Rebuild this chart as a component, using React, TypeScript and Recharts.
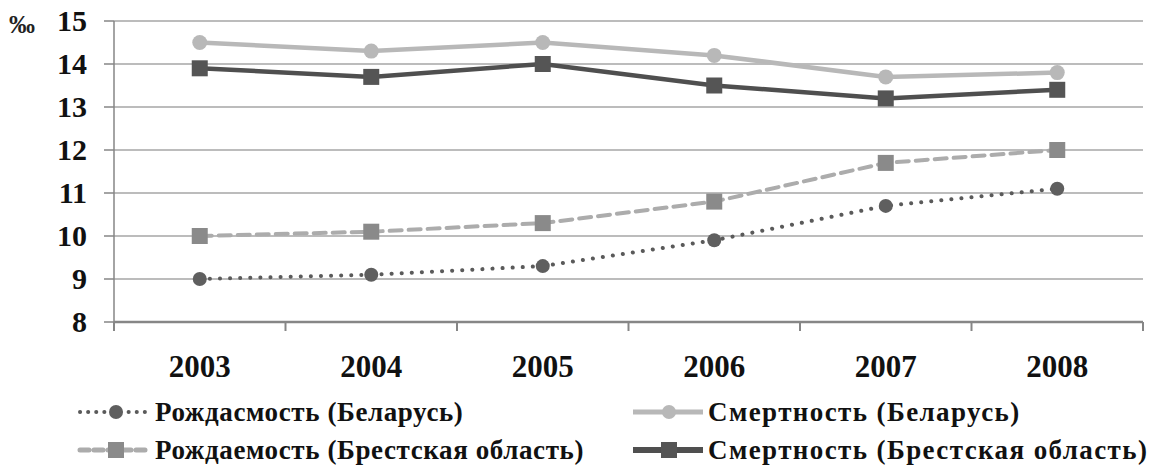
import React from 'react';
import { LineChart, Line, XAxis, YAxis, CartesianGrid, Legend } from 'recharts';

const years = [2003, 2004, 2005, 2006, 2007, 2008];
const birthBelarus = [9.0, 9.1, 9.3, 9.9, 10.7, 11.1];
const deathBelarus = [14.5, 14.3, 14.5, 14.2, 13.7, 13.8];
const birthBrest = [10.0, 10.1, 10.3, 10.8, 11.7, 12.0];
const deathBrest = [13.9, 13.7, 14.0, 13.5, 13.2, 13.4];
const yTicks = [8, 9, 10, 11, 12, 13, 14, 15];
const xBoundaries = [2002.5, 2003.5, 2004.5, 2005.5, 2006.5, 2007.5, 2008.5];

const names = {
  birthBelarus: 'Рождасмость (Беларусь)',
  deathBelarus: 'Смертность (Беларусь)',
  birthBrest: 'Рождаемость (Брестская область)',
  deathBrest: 'Смертность (Брестская область)',
};

const data = years.map((y, i) => ({
  year: y,
  birthBelarus: birthBelarus[i],
  deathBelarus: deathBelarus[i],
  birthBrest: birthBrest[i],
  deathBrest: deathBrest[i],
}));

const xTicks = [...xBoundaries, ...years].sort((a, b) => a - b);

const FONT = 'Liberation Serif';

const XTick = (props: any) => {
  const { x, y, payload } = props;
  const v = payload.value;
  if (Number.isInteger(v)) {
    return (
      <text x={x} y={y + 55} textAnchor="middle" style={{ fontFamily: FONT, fontSize: 31, fontWeight: 'bold' }} fill="#111">
        {v}
      </text>
    );
  }
  return <line x1={x} x2={x} y1={y} y2={y + 9} stroke="#868686" strokeWidth={2} />;
};

const YTick = (props: any) => {
  const { x, y, payload } = props;
  return (
    <text x={x} y={y + 10} textAnchor="end" style={{ fontFamily: FONT, fontSize: 30, fontWeight: 'bold' }} fill="#111">
      {payload.value}
    </text>
  );
};

const SquareDot = (color: string) => (props: any) => {
  const { cx, cy, index } = props;
  if (cx == null || cy == null) return <g key={index} />;
  return <rect key={index} x={cx - 8} y={cy - 8} width={16} height={16} fill={color} />;
};

const legendItems = [
  { key: 'birthBelarus', col: 0, row: 0, color: '#5a5a5a', dash: '0.1 8', width: 4, cap: 'round', marker: 'circle', mcolor: '#5f5f5f' },
  { key: 'deathBelarus', col: 1, row: 0, color: '#b8b8b8', dash: undefined, width: 5, cap: 'butt', marker: 'circle', mcolor: '#b8b8b8' },
  { key: 'birthBrest', col: 0, row: 1, color: '#acacac', dash: '9 5', width: 5, cap: 'round', marker: 'square', mcolor: '#8a8a8a' },
  { key: 'deathBrest', col: 1, row: 1, color: '#4f4f4f', dash: undefined, width: 6, cap: 'butt', marker: 'square', mcolor: '#555555' },
];

const LegendContent = () => {
  const colX = [80, 633];
  const colSpacing = [0.6, 1.4];
  const rowY = [31, 69];
  return (
    <svg width={1156} height={90} style={{ display: 'block' }}>
      {legendItems.map((it) => {
        const x0 = colX[it.col];
        const y = rowY[it.row];
        const mx = x0 + 36;
        return (
          <g key={it.key}>
            <line x1={x0} x2={x0 + 70} y1={y} y2={y} stroke={it.color} strokeWidth={it.width}
              strokeDasharray={it.dash} strokeLinecap={it.cap as any} />
            {it.marker === 'circle' ? (
              <circle cx={mx} cy={y} r={7} fill={it.mcolor} />
            ) : (
              <rect x={mx - 8} y={y - 8} width={16} height={16} fill={it.mcolor} />
            )}
            <text x={x0 + 75} y={y + 9} style={{ fontFamily: FONT, fontSize: 27, fontWeight: 'bold', letterSpacing: colSpacing[it.col] }} fill="#111">
              {(names as any)[it.key]}
            </text>
          </g>
        );
      })}
    </svg>
  );
};

const PermilleLabel = (props: any) => {
  const { viewBox } = props;
  return (
    <text x={viewBox.x + 9} y={viewBox.y + 12} style={{ fontFamily: FONT, fontSize: 26, fontWeight: 'bold' }} fill="#222">
      ‰
    </text>
  );
};

export default function App() {
  return (
    <div style={{ position: 'absolute', left: 0, top: 0, width: 1156, height: 471, background: '#fff', fontFamily: FONT }}>
      <LineChart width={1156} height={471} data={data} margin={{ top: 21, right: 13, left: 0, bottom: 0 }}>
        <CartesianGrid horizontal vertical={false} stroke="#a6a6a6" strokeWidth={1.5} />
        <XAxis
          dataKey="year"
          type="number"
          domain={[2002.5, 2008.5]}
          ticks={xTicks}
          interval={0}
          tick={<XTick />}
          tickLine={false}
          tickSize={0}
          tickMargin={0}
          axisLine={{ stroke: '#868686', strokeWidth: 2.5 }}
          height={59}
        />
        <YAxis
          domain={[8, 15]}
          ticks={yTicks}
          interval={0}
          width={114}
          tickSize={10}
          tickMargin={17}
          tick={<YTick />}
          tickLine={{ stroke: '#868686', strokeWidth: 1.5 }}
          axisLine={{ stroke: '#868686', strokeWidth: 1.5 }}
          label={<PermilleLabel />}
        />
        <Legend verticalAlign="bottom" align="left" content={<LegendContent />}
          wrapperStyle={{ left: 0, bottom: 0, width: 1156, height: 90 }} />
        <Line dataKey="birthBelarus" name={names.birthBelarus} stroke="#5a5a5a" strokeWidth={4}
          strokeDasharray="0.1 10" strokeLinecap="round" dot={{ r: 7, fill: '#5f5f5f', stroke: 'none' }}
          isAnimationActive={false} />
        <Line dataKey="birthBrest" name={names.birthBrest} stroke="#acacac" strokeWidth={4}
          strokeDasharray="12 7" strokeLinecap="round" dot={SquareDot('#8a8a8a')}
          isAnimationActive={false} />
        <Line dataKey="deathBelarus" name={names.deathBelarus} stroke="#b8b8b8" strokeWidth={4.5}
          dot={{ r: 7.5, fill: '#b8b8b8', stroke: 'none' }} isAnimationActive={false} />
        <Line dataKey="deathBrest" name={names.deathBrest} stroke="#4f4f4f" strokeWidth={4.5}
          dot={SquareDot('#555555')} isAnimationActive={false} />
      </LineChart>
    </div>
  );
}
